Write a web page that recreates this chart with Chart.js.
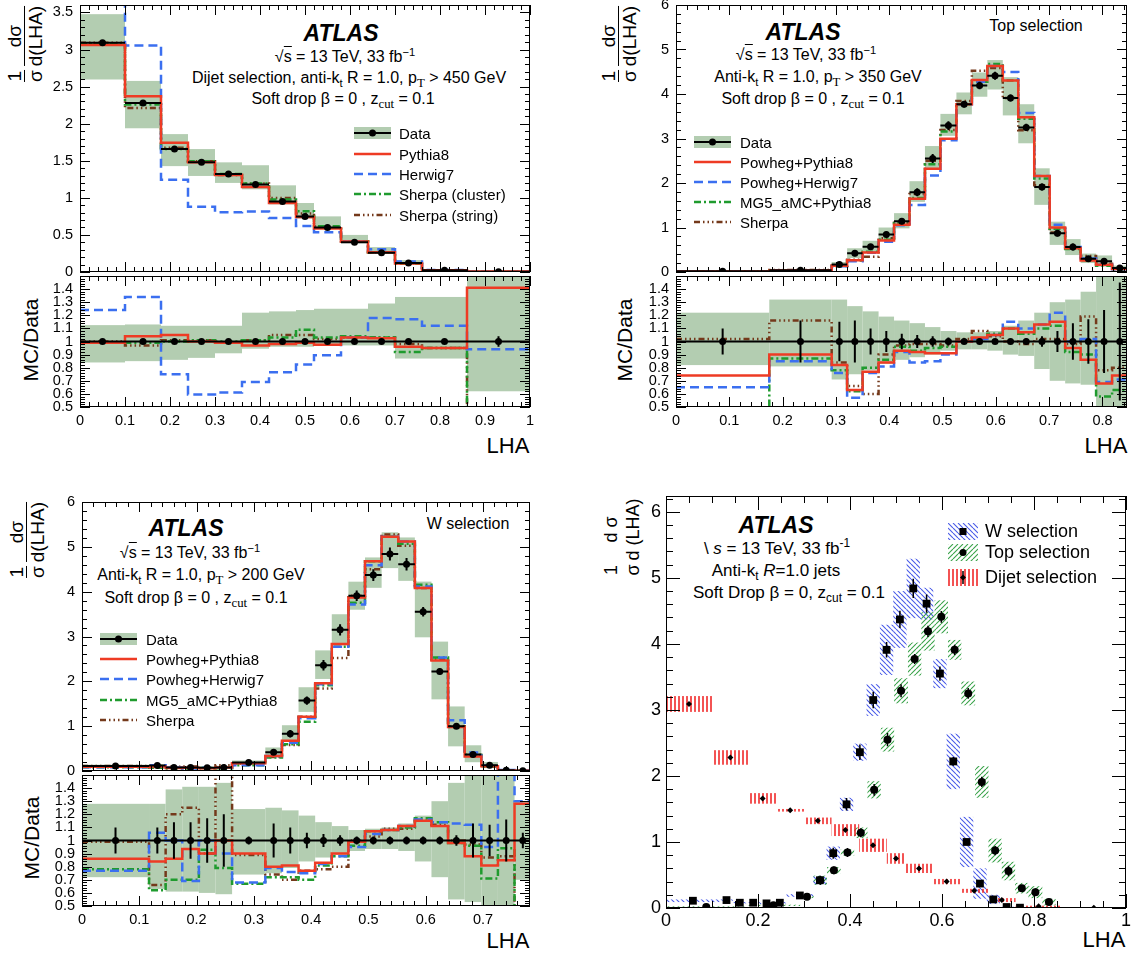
<!DOCTYPE html>
<html>
<head>
<meta charset="utf-8">
<title>LHA with soft drop</title>
<script src="https://cdn.jsdelivr.net/npm/chart.js@4.4.1/dist/chart.umd.min.js"></script>
<style>
  body { margin: 0; width: 1136px; height: 961px; position: relative; overflow: hidden; background: #fff;
         font-family: "Liberation Sans", Arial, sans-serif; color: #000; }
  canvas { position: absolute; }
  .t { position: absolute; white-space: nowrap; line-height: 1; font-size: 16px; transform: translate(-50%, -50%); }
  .lg { position: absolute; white-space: nowrap; line-height: 1; font-size: 15px; transform: translateY(-50%); }
  .atlas { font-weight: bold; font-style: italic; font-size: 23px; }
  sub, sup { font-size: 70%; line-height: 0; position: relative; vertical-align: baseline; }
  sub { top: 0.35em; }
  sup { top: -0.55em; }
  .serif { font-family: "Liberation Serif", "Times New Roman", serif; font-size: 80%; }
  .root { border-top: 1px solid #000; padding-top: 1px; }
  .rt { position: absolute; white-space: nowrap; line-height: 1; transform: translate(-50%, -50%) rotate(-90deg); }
  .frac { display: inline-flex; flex-direction: column; align-items: center; vertical-align: middle; margin: 0 2px; }
  .frac > span:last-child { border-top: 1.5px solid #000; padding-top: 1px; }
  .nobar > span:last-child { border-top: none; padding-top: 4px; }
</style>
</head>
<body>

<!-- top left: dijet -->
<div class="t atlas" style="left:341px;top:33px">ATLAS</div>
<div class="t" style="left:345px;top:57px">√<span class="root">s</span> = 13 TeV, 33 fb<sup>−1</sup></div>
<div class="t" style="left:349px;top:78px">Dijet selection, anti-k<sub>t</sub> R = 1.0, p<sub class="serif">T</sub> &gt; 450 GeV</div>
<div class="t" style="left:343px;top:99px">Soft drop β = 0 , z<sub class="serif">cut</sub> = 0.1</div>
<div class="rt" style="left:25px;top:44px;font-size:19px"><span class="frac"><span>1</span><span>σ</span></span><span class="frac"><span>dσ</span><span>d(LHA)</span></span></div>
<div class="rt" style="left:30px;top:340px;font-size:21px">MC/Data</div>
<div class="t" style="left:508px;top:446px;font-size:22px">LHA</div>

<!-- top right: top selection -->
<div class="t atlas" style="left:803px;top:32px">ATLAS</div>
<div class="t" style="left:1036px;top:26px">Top selection</div>
<div class="t" style="left:806px;top:55px">√<span class="root">s</span> = 13 TeV, 33 fb<sup>−1</sup></div>
<div class="t" style="left:818px;top:77px">Anti-k<sub>t</sub> R = 1.0, p<sub class="serif">T</sub> &gt; 350 GeV</div>
<div class="t" style="left:813px;top:99px">Soft drop β = 0 , z<sub class="serif">cut</sub> = 0.1</div>
<div class="rt" style="left:619px;top:44px;font-size:19px"><span class="frac"><span>1</span><span>σ</span></span><span class="frac"><span>dσ</span><span>d(LHA)</span></span></div>
<div class="rt" style="left:624px;top:340px;font-size:21px">MC/Data</div>
<div class="t" style="left:1106px;top:446px;font-size:22px">LHA</div>

<!-- bottom left: W selection -->
<div class="t atlas" style="left:186px;top:528px">ATLAS</div>
<div class="t" style="left:468px;top:524px">W selection</div>
<div class="t" style="left:190px;top:553px">√<span class="root">s</span> = 13 TeV, 33 fb<sup>−1</sup></div>
<div class="t" style="left:201px;top:575px">Anti-k<sub>t</sub> R = 1.0, p<sub class="serif">T</sub> &gt; 200 GeV</div>
<div class="t" style="left:196px;top:598px">Soft drop β = 0 , z<sub class="serif">cut</sub> = 0.1</div>
<div class="rt" style="left:27px;top:540px;font-size:19px"><span class="frac"><span>1</span><span>σ</span></span><span class="frac"><span>dσ</span><span>d(LHA)</span></span></div>
<div class="rt" style="left:31px;top:838px;font-size:21px">MC/Data</div>
<div class="t" style="left:508px;top:941px;font-size:22px">LHA</div>

<!-- bottom right: summary -->
<div class="t atlas" style="left:776px;top:525px">ATLAS</div>
<div class="t" style="left:777px;top:548px;font-size:17px">\ <i>s</i> = 13 TeV, 33 fb<sup>-1</sup></div>
<div class="t" style="left:776px;top:570px;font-size:17px">Anti-k<sub>t</sub> <i>R</i>=1.0 jets</div>
<div class="t" style="left:789px;top:592px;font-size:17px">Soft Drop β = 0, z<sub>cut</sub> = 0.1</div>
<div class="rt" style="left:622px;top:537px;font-size:18px"><span class="frac nobar"><span>1</span><span>σ</span></span><span class="frac nobar"><span>d σ</span><span>d (LHA)</span></span></div>
<div class="t" style="left:1104px;top:940px;font-size:22px">LHA</div>

<script>
// ---- Dijet selection ----
const dijetEdges = [0, 0.1, 0.18, 0.24, 0.3, 0.36, 0.42, 0.48, 0.52, 0.58, 0.64, 0.7, 0.76, 0.86, 1.0];
const dijetData = [3.09, 2.28, 1.66, 1.48, 1.32, 1.18, 0.95, 0.75, 0.6, 0.4, 0.26, 0.12, 0.025, 0.005];
const dijetStat = [0.01, 0.01, 0.01, 0.01, 0.01, 0.01, 0.01, 0.01, 0.01, 0.01, 0.015, 0.02, 0.02, 0.04];
const dijetBandLo = [0.84, 0.85, 0.86, 0.875, 0.91, 0.945, 0.96, 0.96, 0.97, 0.97, 0.97, 0.87, 0.87, 0.62];
const dijetBandHi = [1.125, 1.13, 1.12, 1.12, 1.12, 1.22, 1.23, 1.24, 1.25, 1.25, 1.29, 1.34, 1.34, 1.55];
const dijetPythia8 = [0.99, 1.04, 1.05, 1.0, 0.99, 0.97, 0.98, 0.99, 0.975, 1.03, 1.025, 0.96, 0.95, 1.41];
const dijetHerwig7 = [1.24, 1.34, 0.75, 0.595, 0.61, 0.69, 0.765, 0.825, 0.895, 1.03, 1.18, 1.17, 1.12, 0.94];
const dijetSherpaCluster = [0.995, 0.99, 1.0, 1.01, 1.0, 1.01, 1.03, 1.09, 1.03, 1.04, 1.03, 0.92, 0.95, 0];
const dijetSherpaString = [1.0, 0.97, 1.01, 1.01, 0.99, 1.01, 1.05, 1.05, 1.02, 1.03, 1.03, 0.98, 0.95, 0];
const dijetTotErr = [0.12, 0.11, 0.08, 0.02, 0.05, 0.09, 0.1, 0.08, 0.07, 0.04, 0.03, 0.03, 0.01, 0.005];

// ---- Top selection ----
const topEdges = [0, 0.175, 0.292, 0.321, 0.35, 0.38, 0.409, 0.438, 0.467, 0.496, 0.526, 0.555,
                  0.584, 0.613, 0.642, 0.672, 0.701, 0.73, 0.759, 0.788, 0.818, 0.847];
const topData = [0.015, 0.04, 0.17, 0.42, 0.57, 0.84, 1.14, 1.79, 2.55, 3.29, 3.77, 4.19, 4.41, 3.91,
                 3.25, 1.91, 0.87, 0.56, 0.3, 0.24, 0.09];
const topStat = [0.1, 0.16, 0.15, 0.16, 0.1, 0.08, 0.06, 0.05, 0.04, 0.03, 0.02, 0.02, 0.02, 0.02,
                 0.025, 0.04, 0.08, 0.14, 0.17, 0.24, 0.45];
const topBandLo = [0.82, 0.81, 0.71, 0.75, 0.78, 0.83, 0.86, 0.88, 0.9, 0.93, 0.94, 0.94, 0.93, 0.9,
                   0.89, 0.79, 0.7, 0.68, 0.67, 0.5, 0.45];
const topBandHi = [1.22, 1.32, 1.32, 1.27, 1.23, 1.19, 1.16, 1.14, 1.11, 1.08, 1.07, 1.07, 1.08, 1.12,
                   1.16, 1.22, 1.3, 1.32, 1.38, 1.55, 1.6];
const topPowhegPythia8 = [0.74, 0.9, 0.82, 0.63, 0.77, 0.84, 0.93, 0.92, 0.91, 0.91, 1.0, 1.03, 1.05, 1.1,
                          1.07, 1.13, 1.15, 0.95, 0.86, 0.68, 0.74];
const topPowhegHerwig7 = [0.65, 0.85, 0.76, 0.57, 0.76, 0.81, 0.92, 0.84, 0.85, 0.9, 1.0, 1.02, 1.05, 1.15,
                          1.1, 1.13, 1.22, 1.0, 1.02, 0.69, 0.71];
const topMG5 = [0.3, 0.87, 0.78, 0.62, 0.8, 0.86, 0.96, 0.93, 0.95, 0.96, 1.0, 1.02, 1.06, 1.1,
                1.06, 1.1, 1.12, 0.92, 0.9, 0.58, 0.63];
const topSherpa = [1.02, 1.16, 0.84, 0.66, 0.6, 0.9, 0.97, 0.98, 0.98, 0.97, 1.02, 1.08, 1.04, 1.0,
                   0.98, 1.02, 1.02, 0.98, 1.19, 0.78, 0.8];
const topTotErr = [0.01, 0.01, 0.02, 0.07, 0.05, 0.05, 0.08, 0.13, 0.18, 0.19, 0.25, 0.29, 0.25, 0.15,
                   0.18, 0.24, 0.18, 0.14, 0.08, 0.09, 0.05];

// ---- W selection ----
const wEdges = [0, 0.117, 0.146, 0.175, 0.204, 0.233, 0.262, 0.32, 0.349, 0.378, 0.407, 0.436, 0.465,
                0.494, 0.523, 0.552, 0.581, 0.61, 0.639, 0.668, 0.697, 0.726, 0.755, 0.784];
const wData = [0.11, 0.12, 0.08, 0.08, 0.07, 0.08, 0.19, 0.42, 0.83, 1.57, 2.36, 3.15, 3.91, 4.37,
               4.84, 4.61, 3.55, 2.22, 1.0, 0.37, 0.13, 0.015, 0.005];
const wStat = [0.1, 0.1, 0.14, 0.14, 0.17, 0.2, 0.03, 0.13, 0.1, 0.06, 0.05, 0.04, 0.03, 0.03,
               0.03, 0.03, 0.03, 0.03, 0.04, 0.13, 0.12, 0.16, 0.06];
const wBandLo = [0.72, 0.63, 0.61, 0.61, 0.6, 0.59, 0.74, 0.75, 0.79, 0.84, 0.87, 0.89, 0.92, 0.935,
                 0.935, 0.92, 0.84, 0.72, 0.55, 0.53, 0.5, 0.5, 0.7];
const wBandHi = [1.28, 1.28, 1.39, 1.41, 1.41, 1.44, 1.24, 1.25, 1.23, 1.19, 1.14, 1.11, 1.08, 1.09,
                 1.1, 1.13, 1.19, 1.3, 1.44, 1.55, 1.55, 1.55, 1.3];
const wPowhegPythia8 = [0.86, 0.84, 0.86, 0.935, 0.9, 1.0, 0.9, 0.8, 0.81, 0.77, 0.83, 0.9, 0.99, 1.07,
                        1.08, 1.11, 1.15, 1.11, 0.98, 0.88, 0.81, 0.85, 1.28];
const wPowhegHerwig7 = [0.77, 1.06, 1.0, 0.69, 1.0, 0.9, 0.68, 0.79, 0.76, 0.75, 0.82, 0.88, 0.95, 1.05,
                        1.08, 1.11, 1.16, 1.14, 1.13, 1.12, 0.95, 1.6, 1.3];
const wMG5 = [0.78, 0.62, 0.7, 0.7, 0.93, 0.79, 0.67, 0.72, 0.72, 0.7, 0.81, 0.88, 0.96, 1.07,
              1.08, 1.1, 1.17, 1.14, 0.98, 0.96, 0.71, 0.94, 0.3];
const wSherpa = [0.99, 0.66, 1.2, 1.25, 0.9, 1.6, 0.89, 0.74, 0.7, 0.77, 0.78, 0.8, 1.0, 1.03,
                 1.09, 1.09, 1.15, 1.12, 1.0, 0.97, 0.87, 0.88, 0.3];
const wTotErr = [0.02, 0.01, 0.01, 0.01, 0.01, 0.01, 0.02, 0.06, 0.1, 0.1, 0.13, 0.24, 0.38, 0.43,
                 0.45, 0.24, 0.22, 0.42, 0.38, 0.23, 0.07, 0.01, 0.01];

// ---- axis ticks ----
const dijetYTicks = [0, 0.5, 1, 1.5, 2, 2.5, 3, 3.5];
const dijetYLabels = ['0', '0.5', '1', '1.5', '2', '2.5', '3', '3.5'];
const sixYTicks = [0, 1, 2, 3, 4, 5, 6];
const sixYLabels = ['0', '1', '2', '3', '4', '5', '6'];
const ratioTicks = [0.5, 0.6, 0.7, 0.8, 0.9, 1.0, 1.1, 1.2, 1.3, 1.4];
const ratioLabels = ['0.5', '0.6', '0.7', '0.8', '0.9', '1', '1.1', '1.2', '1.3', '1.4'];
const lhaTicks = [0, 0.1, 0.2, 0.3, 0.4, 0.5, 0.6, 0.7, 0.8, 0.9, 1.0];
const lhaLabels = ['0', '0.1', '0.2', '0.3', '0.4', '0.5', '0.6', '0.7', '0.8', '0.9', '1'];
const sumXTicks = [0, 0.2, 0.4, 0.6, 0.8, 1.0];
const sumXLabels = ['0', '0.2', '0.4', '0.6', '0.8', '1'];

const mcNames1 = ['Pythia8', 'Herwig7', 'Sherpa (cluster)', 'Sherpa (string)'];
const mcNames2 = ['Powheg+Pythia8', 'Powheg+Herwig7', 'MG5_aMC+Pythia8', 'Sherpa'];

Chart.defaults.font.family = "'Liberation Sans', Arial, sans-serif";
Chart.defaults.color = '#000';

const BAND = '#b3cdb1';
const MC_STYLE = [
  { color: '#ee3b24', dash: [] },
  { color: '#3b6ff0', dash: [9, 5] },
  { color: '#1f9b2e', dash: [7, 3, 2, 3] },
  { color: '#74391b', dash: [6, 3, 1.5, 3, 1.5, 3, 1.5, 3] }
];

const centres = e => e.slice(0, -1).map((v, i) => (v + e[i + 1]) / 2);
const times = (a, b) => a.map((v, i) => v * b[i]);
const ones = a => a.map(() => 1);

function steps(edges, vals) {
  const pts = vals.map((v, i) => ({ x: edges[i], y: v }));
  pts.push({ x: edges[edges.length - 1], y: vals[vals.length - 1] });
  return pts;
}

function hatch(kind, color) {
  const s = kind === 'v' ? 4 : 5;
  const t = document.createElement('canvas');
  t.width = s; t.height = s;
  const g = t.getContext('2d');
  g.strokeStyle = color;
  g.lineWidth = kind === 'v' ? 1.6 : 1.1;
  g.beginPath();
  if (kind === 'v') { g.moveTo(1, 0); g.lineTo(1, s); }
  for (const k of [-1, 0, 1]) {
    if (kind === 'back') { g.moveTo(k * s, 0); g.lineTo(k * s + s, s); }
    if (kind === 'fwd') { g.moveTo(k * s, s); g.lineTo(k * s + s, 0); }
  }
  g.stroke();
  return g.createPattern(t, 'repeat');
}

// boxes per bin (uncertainty bands)
const boxesPlugin = sets => ({
  id: 'boxes',
  beforeDatasetsDraw(chart) {
    const { ctx, chartArea: a, scales: { x, y } } = chart;
    ctx.save();
    ctx.beginPath(); ctx.rect(a.left, a.top, a.width, a.height); ctx.clip();
    for (const s of sets) {
      ctx.fillStyle = s.fill;
      s.lo.forEach((lo, i) => {
        const x0 = x.getPixelForValue(s.edges[i]), x1 = x.getPixelForValue(s.edges[i + 1]);
        const y0 = y.getPixelForValue(s.hi[i]), y1 = y.getPixelForValue(lo);
        ctx.fillRect(x0, y0, x1 - x0, y1 - y0);
      });
    }
    ctx.restore();
  }
});

// data error bars: bin-wide horizontal line and vertical stat error
const errPlugin = sets => ({
  id: 'errbars',
  afterDatasetsDraw(chart) {
    const { ctx, chartArea: a, scales: { x, y } } = chart;
    ctx.save();
    ctx.beginPath(); ctx.rect(a.left, a.top, a.width, a.height); ctx.clip();
    for (const s of sets) {
      ctx.strokeStyle = '#000';
      ctx.lineWidth = s.width;
      ctx.beginPath();
      s.y.forEach((v, i) => {
        const py = y.getPixelForValue(v);
        if (s.edges) { ctx.moveTo(x.getPixelForValue(s.edges[i]), py); ctx.lineTo(x.getPixelForValue(s.edges[i + 1]), py); }
        const px = x.getPixelForValue(s.x[i]);
        ctx.moveTo(px, y.getPixelForValue(v - s.err[i])); ctx.lineTo(px, y.getPixelForValue(v + s.err[i]));
      });
      ctx.stroke();
    }
    ctx.restore();
  }
});

// ROOT style frame with inward ticks on all four sides
const framePlugin = o => ({
  id: 'frame',
  afterDraw(chart) {
    const { ctx, chartArea: a, scales: { x, y } } = chart;
    ctx.save();
    ctx.strokeStyle = '#000';
    ctx.lineWidth = 1;
    ctx.strokeRect(a.left + 0.5, a.top + 0.5, a.width - 1, a.height - 1);
    ctx.beginPath();
    const mark = (scale, v, len) => {
      const p = Math.round(scale.getPixelForValue(v)) + 0.5;
      if (scale === x) {
        ctx.moveTo(p, a.bottom); ctx.lineTo(p, a.bottom - len);
        ctx.moveTo(p, a.top); ctx.lineTo(p, a.top + len);
      } else {
        ctx.moveTo(a.left, p); ctx.lineTo(a.left + len, p);
        ctx.moveTo(a.right, p); ctx.lineTo(a.right - len, p);
      }
    };
    for (const [scale, step] of [[x, o.xMinor], [y, o.yMinor]]) {
      for (let k = Math.ceil(scale.min / step - 1e-6); k * step <= scale.max + 1e-6; k++) mark(scale, k * step, o.minor);
      scale.ticks.forEach(t => mark(scale, t.value, o.major));
    }
    ctx.stroke();
    ctx.restore();
  }
});

function axis(o) {
  return {
    type: 'linear', min: o.min, max: o.max,
    grid: { display: false, drawTicks: false },
    border: { display: false },
    afterBuildTicks: s => { s.ticks = o.ticks.map(v => ({ value: v })); },
    ticks: { display: o.show !== false, autoSkip: false, maxRotation: 0, minRotation: 0, padding: o.pad,
             font: { size: o.font }, color: '#000', callback: (v, i) => o.labels[i] },
    afterFit: s => {
      if (o.horizontal) s.height = o.size; else s.width = o.size;
      s.paddingLeft = s.paddingRight = s.paddingTop = s.paddingBottom = 0;
    }
  };
}

function makeChart(frame, pad, xAx, yAx, datasets, plugins) {
  const c = document.createElement('canvas');
  const w = frame.r - frame.l + pad.l + pad.r, h = frame.b - frame.t + pad.t + pad.b;
  c.width = w; c.height = h;
  c.style.width = w + 'px'; c.style.height = h + 'px';
  c.style.left = (frame.l - pad.l) + 'px'; c.style.top = (frame.t - pad.t) + 'px';
  document.body.appendChild(c);
  return new Chart(c, {
    type: 'line',
    data: { datasets },
    options: {
      responsive: false, animation: false, devicePixelRatio: 1,
      layout: { padding: { left: 0, right: pad.r, top: pad.t, bottom: 0 } },
      plugins: { legend: { display: false }, tooltip: { enabled: false } },
      scales: {
        x: axis({ ...xAx, horizontal: true, size: pad.b }),
        y: axis({ ...yAx, size: pad.l })
      }
    },
    plugins
  });
}

function dots(xs, ys, style, r) {
  return { type: 'line', showLine: false, data: xs.map((x, i) => ({ x, y: ys[i] })), pointStyle: style,
           pointRadius: r, pointBackgroundColor: '#000', pointBorderColor: '#000', pointBorderWidth: 0, clip: 0 };
}
function mcLine(edges, vals, st) {
  return { data: steps(edges, vals), stepped: true, borderColor: st.color, borderWidth: 2.5,
           borderDash: st.dash, pointRadius: 0, fill: false, clip: 0 };
}

// one measurement panel: main distribution plus MC/Data ratio
function measurement(p) {
  const xc = centres(p.edges);
  const mainPad = { l: 70, r: 16, t: p.frameMain.t > 20 ? 12 : 5, b: 8 };
  const ratioPad = { l: 70, r: 16, t: 0, b: 50 };
  const tk = { major: 10, minor: 5, xMinor: 0.02 };
  makeChart(p.frameMain, mainPad,
    { min: 0, max: p.xMax, ticks: p.xTicks, labels: p.xLabels, show: false, font: 14.5, pad: 0 },
    { min: 0, max: p.yMax, ticks: p.yTicks, labels: p.yLabels, font: 14.5, pad: 7 },
    [dots(xc, p.data, 'circle', 3.5)].concat(p.mc.map((r, i) => mcLine(p.edges, times(p.data, r), MC_STYLE[i]))),
    [boxesPlugin([{ edges: p.edges, lo: times(p.data, p.bandLo), hi: times(p.data, p.bandHi), fill: BAND }]),
     errPlugin([{ edges: p.edges, x: xc, y: p.data, err: times(p.data, p.stat), width: 2 }]),
     framePlugin({ ...tk, yMinor: p.yMinor })]);
  makeChart(p.frameRatio, ratioPad,
    { min: 0, max: p.xMax, ticks: p.xTicks, labels: p.xLabels, font: 14.5, pad: 5 },
    { min: 0.5, max: 1.5, ticks: ratioTicks, labels: ratioLabels, font: 14.5, pad: 7 },
    [dots(xc, ones(p.data), 'circle', 3.5)].concat(p.mc.map((r, i) => mcLine(p.edges, r, MC_STYLE[i]))),
    [boxesPlugin([{ edges: p.edges, lo: p.bandLo, hi: p.bandHi, fill: BAND }]),
     errPlugin([{ edges: p.edges, x: xc, y: ones(p.data), err: p.stat, width: 2 }]),
     framePlugin({ ...tk, yMinor: 0.02 })]);
}

function swatch(x, yc, w, h, draw) {
  const c = document.createElement('canvas');
  c.width = w; c.height = h;
  c.style.left = x + 'px'; c.style.top = (yc - h / 2) + 'px';
  document.body.appendChild(c);
  draw(c.getContext('2d'), w, h);
}
function label(x, yc, text, size) {
  const d = document.createElement('div');
  d.className = 'lg';
  d.style.left = x + 'px'; d.style.top = yc + 'px';
  if (size) d.style.fontSize = size + 'px';
  d.textContent = text;
  document.body.appendChild(d);
}
function lineLegend(x, tx, rows, names) {
  swatch(x, rows[0], 37, 14, (g, w, h) => {
    g.fillStyle = BAND; g.fillRect(0, 1, w, h - 2);
    g.strokeStyle = '#000'; g.lineWidth = 2;
    g.beginPath(); g.moveTo(0, h / 2); g.lineTo(w, h / 2); g.stroke();
    g.fillStyle = '#000'; g.beginPath(); g.arc(w / 2, h / 2, 3.5, 0, 2 * Math.PI); g.fill();
  });
  label(tx, rows[0], 'Data');
  names.forEach((n, i) => {
    swatch(x, rows[i + 1], 37, 6, (g, w, h) => {
      g.strokeStyle = MC_STYLE[i].color; g.lineWidth = 2.5; g.setLineDash(MC_STYLE[i].dash);
      g.beginPath(); g.moveTo(0, h / 2); g.lineTo(w, h / 2); g.stroke();
    });
    label(tx, rows[i + 1], n);
  });
}

measurement({
  frameMain: { l: 80, r: 530, t: 5, b: 272 }, frameRatio: { l: 80, r: 530, t: 272, b: 407 },
  edges: dijetEdges, data: dijetData, stat: dijetStat, bandLo: dijetBandLo, bandHi: dijetBandHi,
  mc: [dijetPythia8, dijetHerwig7, dijetSherpaCluster, dijetSherpaString],
  xMax: 1.0, xTicks: lhaTicks, xLabels: lhaLabels,
  yMax: 3.6, yTicks: dijetYTicks, yLabels: dijetYLabels, yMinor: 0.1
});
measurement({
  frameMain: { l: 676, r: 1127, t: 5, b: 272 }, frameRatio: { l: 676, r: 1127, t: 272, b: 407 },
  edges: topEdges, data: topData, stat: topStat, bandLo: topBandLo, bandHi: topBandHi,
  mc: [topPowhegPythia8, topPowhegHerwig7, topMG5, topSherpa],
  xMax: 0.846, xTicks: lhaTicks.slice(0, 9), xLabels: lhaLabels.slice(0, 9),
  yMax: 6, yTicks: sixYTicks, yLabels: sixYLabels, yMinor: 0.2
});
measurement({
  frameMain: { l: 82, r: 530, t: 502, b: 771 }, frameRatio: { l: 82, r: 530, t: 771, b: 906 },
  edges: wEdges, data: wData, stat: wStat, bandLo: wBandLo, bandHi: wBandHi,
  mc: [wPowhegPythia8, wPowhegHerwig7, wMG5, wSherpa],
  xMax: 0.782, xTicks: lhaTicks.slice(0, 8), xLabels: lhaLabels.slice(0, 8),
  yMax: 6, yTicks: sixYTicks, yLabels: sixYLabels, yMinor: 0.2
});

lineLegend(354, 399, [133, 154, 174, 194, 215], mcNames1);
lineLegend(694, 740, [142, 162, 182, 202, 222], mcNames2);
lineLegend(100, 146, [639, 659, 679, 700, 720], mcNames2);

// ---- summary of the three selections ----
const wHatch = hatch('back', '#4a5ce8');
const topHatch = hatch('fwd', '#3aa34a');
const dijetHatch = hatch('v', '#f02828');
const minus = (a, e) => a.map((v, i) => v - e[i]);
const plus = (a, e) => a.map((v, i) => v + e[i]);

makeChart({ l: 666, r: 1126, t: 496, b: 908 }, { l: 60, r: 16, t: 12, b: 40 },
  { min: 0, max: 1, ticks: sumXTicks, labels: sumXLabels, font: 18, pad: 2 },
  { min: 0, max: 6.24, ticks: sixYTicks, labels: sixYLabels, font: 18, pad: 5 },
  [dots(centres(dijetEdges), dijetData, 'rectRot', 3),
   dots(centres(topEdges), topData, 'circle', 4),
   dots(centres(wEdges), wData, 'rect', 5.5)],
  [boxesPlugin([
     { edges: wEdges, lo: minus(wData, wTotErr), hi: plus(wData, wTotErr), fill: wHatch },
     { edges: topEdges, lo: minus(topData, topTotErr), hi: plus(topData, topTotErr), fill: topHatch },
     { edges: dijetEdges, lo: minus(dijetData, dijetTotErr), hi: plus(dijetData, dijetTotErr), fill: dijetHatch }]),
   errPlugin([
     { x: centres(wEdges), y: wData, err: times(wData, wStat), width: 1.5 },
     { x: centres(topEdges), y: topData, err: times(topData, topStat), width: 1.5 },
     { x: centres(dijetEdges), y: dijetData, err: times(dijetData, dijetStat), width: 1.5 }]),
   framePlugin({ major: 14, minor: 7, xMinor: 0.05, yMinor: 0.2 })]);

const sumLegend = [
  { name: 'W selection', fill: wHatch, y: 531 },
  { name: 'Top selection', fill: topHatch, y: 552 },
  { name: 'Dijet selection', fill: dijetHatch, y: 577 }
];
sumLegend.forEach((e, i) => {
  swatch(948, e.y, 30, 17, (g, w, h) => {
    g.fillStyle = e.fill; g.fillRect(0, 0, w, h);
    g.fillStyle = '#000'; g.strokeStyle = '#000';
    if (i === 0) g.fillRect(w / 2 - 3.5, h / 2 - 3.5, 7, 7);
    if (i === 1) { g.beginPath(); g.arc(w / 2, h / 2, 3.5, 0, 2 * Math.PI); g.fill(); }
    if (i === 2) {
      g.lineWidth = 1.5; g.beginPath(); g.moveTo(w / 2, 2); g.lineTo(w / 2, h - 2); g.stroke();
      g.beginPath(); g.moveTo(w / 2, h / 2 - 3); g.lineTo(w / 2 + 3, h / 2); g.lineTo(w / 2, h / 2 + 3);
      g.lineTo(w / 2 - 3, h / 2); g.closePath(); g.fill();
    }
  });
  label(985, e.y, e.name, 18);
});
</script>
</body>
</html>
